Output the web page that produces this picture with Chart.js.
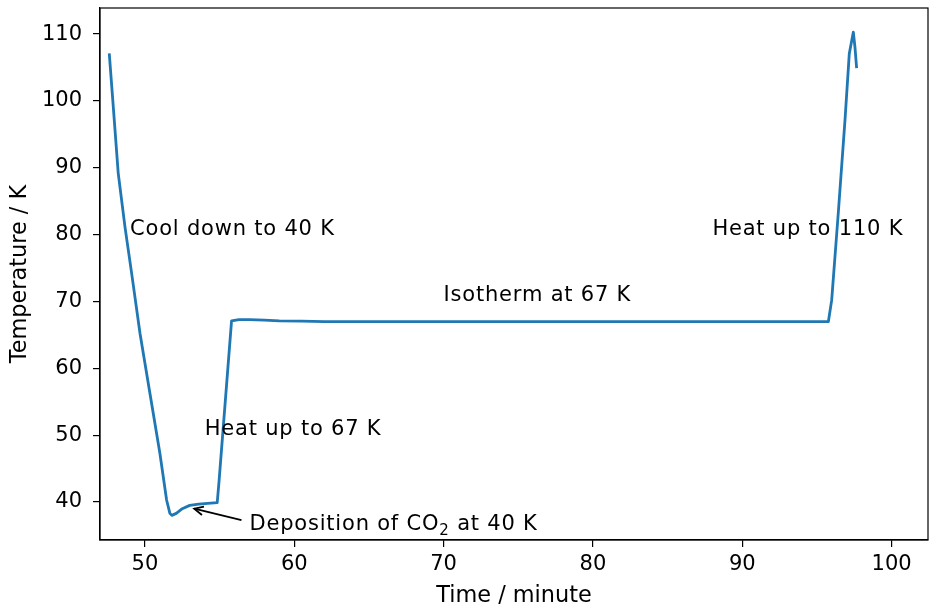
<!DOCTYPE html>
<html>
<head>
<meta charset="utf-8">
<script src="https://cdn.jsdelivr.net/npm/chart.js@4/dist/chart.umd.min.js"></script>
<style>
  html, body { margin: 0; padding: 0; background: #fff; }
  #wrap { width: 929px; height: 607px; position: relative; }
</style>
</head>
<body>
<div id="wrap"><canvas id="grafica"></canvas></div>
<script>
/* Datos de la medida: tiempo (min) y temperatura (K) */
const tiempo = [47.61, 47.88, 48.21, 48.66, 49.11, 49.67, 50.33, 51.00, 51.45, 51.67, 51.80, 52.10, 52.50, 53.00, 53.60, 54.20, 54.84,
                54.97, 55.80, 56.30, 57.00, 58.00, 59.00, 60.50, 62.00, 70.00, 80.00, 90.00, 95.77,
                95.99, 96.43, 96.88, 97.17, 97.44, 97.55, 97.66];
const temperatura = [107.1, 99.1, 89.2, 81.2, 74.2, 65.2, 56.3, 47.3, 40.3, 38.3, 38.0, 38.3, 39.0, 39.5, 39.7, 39.8, 39.9,
                     43.3, 67.1, 67.3, 67.3, 67.2, 67.1, 67.05, 67.0, 67.0, 67.0, 67.0, 67.0,
                     70.2, 83.2, 97.1, 107.1, 110.3, 108.0, 104.9];

const ticksX = [50, 60, 70, 80, 90, 100];
const ticksY = [40, 50, 60, 70, 80, 90, 100, 110];

// Etiquetas de texto en coordenadas de datos
const etiquetas = [
  { x: 49.0, y: 80, texto: 'Cool down to 40 K' },
  { x: 54.0, y: 50, texto: 'Heat up to 67 K' },
  { x: 70.0, y: 70, texto: 'Isotherm at 67 K' },
  { x: 88.0, y: 80, texto: 'Heat up to 110 K' }
];
const flecha = { x: 53.3, y: 39.0, textoX: 57.0, textoY: 35.8 };

const fuente = '"DejaVu Sans", sans-serif';
const tam = 21;
const tamTitulo = 22.4;

// Dibuja el marco, los textos y la flecha
const anotaciones = {
  id: 'anotaciones',
  afterDatasetsDraw(chart) {
    const ctx = chart.ctx;
    const sx = chart.scales.x, sy = chart.scales.y;
    const a = chart.chartArea;
    ctx.save();
    ctx.strokeStyle = '#000';
    ctx.lineWidth = 1.2;
    ctx.strokeRect(a.left, a.top, a.right - a.left, a.bottom - a.top);

    ctx.fillStyle = '#000';
    ctx.font = tam + 'px ' + fuente;
    ctx.letterSpacing = '0.8px';
    ctx.textBaseline = 'alphabetic';
    ctx.textAlign = 'left';
    etiquetas.forEach(e => {
      ctx.fillText(e.texto, sx.getPixelForValue(e.x), sy.getPixelForValue(e.y));
    });

    // Texto con subíndice
    let tx = sx.getPixelForValue(flecha.textoX);
    let ty = sy.getPixelForValue(flecha.textoY);
    let parte1 = 'Deposition of CO';
    ctx.fillText(parte1, tx, ty);
    tx += ctx.measureText(parte1).width;
    ctx.font = Math.round(tam * 0.7) + 'px ' + fuente;
    ctx.fillText('2', tx, ty + 5);
    tx += ctx.measureText('2').width;
    ctx.font = tam + 'px ' + fuente;
    ctx.fillText(' at 40 K', tx, ty);

    // Flecha
    let x0 = sx.getPixelForValue(flecha.textoX) - 8;
    let y0 = ty - 10;
    let x1 = sx.getPixelForValue(flecha.x);
    let y1 = sy.getPixelForValue(flecha.y);
    let ang = Math.atan2(y1 - y0, x1 - x0);
    ctx.lineWidth = 1.8;
    ctx.beginPath();
    ctx.moveTo(x0, y0);
    ctx.lineTo(x1, y1);
    ctx.stroke();
    ctx.beginPath();
    ctx.moveTo(x1 - 10 * Math.cos(ang - 0.45), y1 - 10 * Math.sin(ang - 0.45));
    ctx.lineTo(x1, y1);
    ctx.lineTo(x1 - 10 * Math.cos(ang + 0.45), y1 - 10 * Math.sin(ang + 0.45));
    ctx.stroke();
    ctx.restore();
  }
};

const puntos = tiempo.map((t, i) => ({ x: t, y: temperatura[i] }));

new Chart(document.getElementById('grafica'), {
  type: 'line',
  data: {
    datasets: [{
      data: puntos,
      borderColor: '#1f77b4',
      borderWidth: 2.8,
      borderJoinStyle: 'round',
      pointRadius: 0,
      tension: 0,
      fill: false
    }]
  },
  options: {
    responsive: true,
    maintainAspectRatio: false,
    animation: false,
    layout: { padding: { top: 8, right: 1, left: 0, bottom: 0 } },
    plugins: { legend: { display: false }, tooltip: { enabled: false } },
    scales: {
      x: {
        type: 'linear',
        min: 46.99,
        max: 102.44,
        afterBuildTicks: s => { s.ticks = ticksX.map(v => ({ value: v })); },
        afterFit: s => { s.height = 67; s.paddingLeft = 0; s.paddingRight = 0; },
        grid: { drawOnChartArea: false, drawTicks: true, tickLength: 7, color: '#000', lineWidth: 1.2 },
        border: { display: true, color: '#000', width: 1.2 },
        ticks: { color: '#000', font: { family: fuente, size: tam }, padding: 5, maxRotation: 0 },
        title: { display: true, text: 'Time / minute', color: '#000', font: { family: fuente, size: tamTitulo, lineHeight: 1 }, padding: { top: 0, bottom: 0 } }
      },
      y: {
        type: 'linear',
        min: 34.32,
        max: 113.9,
        afterBuildTicks: s => { s.ticks = ticksY.map(v => ({ value: v })); },
        afterFit: s => { s.width = 100; s.paddingTop = 0; s.paddingBottom = 0; },
        grid: { drawOnChartArea: false, drawTicks: true, tickLength: 7, color: '#000', lineWidth: 1.2 },
        border: { display: true, color: '#000', width: 1.2 },
        ticks: { color: '#000', font: { family: fuente, size: tam }, padding: 11 },
        title: { display: true, text: 'Temperature / K', color: '#000', font: { family: fuente, size: tamTitulo, lineHeight: 1 }, padding: { top: 9, bottom: 0 } }
      }
    }
  },
  plugins: [anotaciones]
});
</script>
</body>
</html>
